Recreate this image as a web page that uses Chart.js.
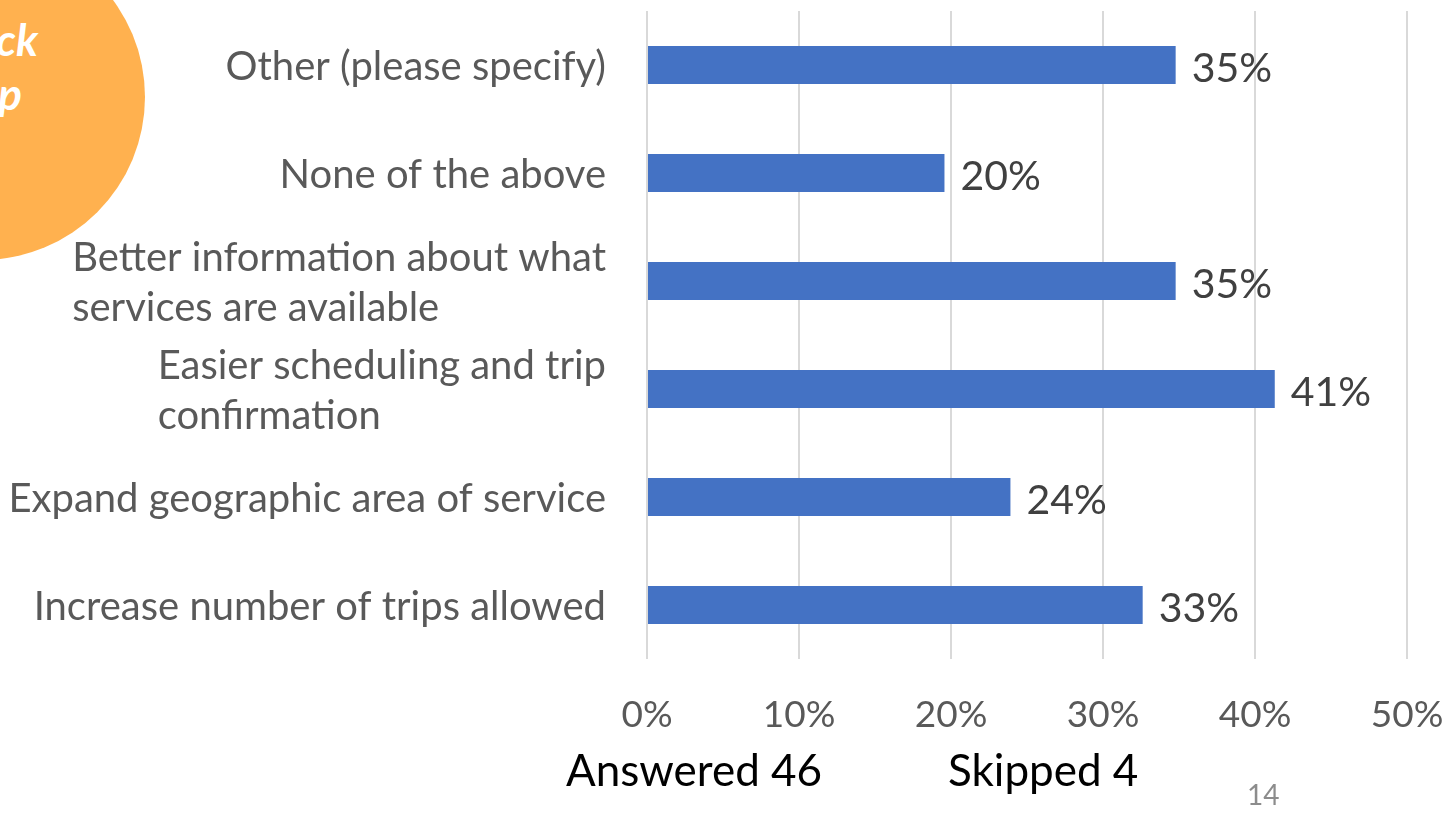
<!DOCTYPE html>
<html>
<head>
<meta charset="utf-8">
<script src="https://cdn.jsdelivr.net/npm/chart.js@4.4.1/dist/chart.umd.min.js"></script>
<style>
  html, body { margin: 0; padding: 0; background: #fff; overflow: hidden; }
  #wrap { position: relative; width: 1452px; height: 817px; font-family: Lato, "Open Sans", sans-serif; }
  #chart { position: absolute; left: 0; top: 0; }
  .blob { position: absolute; left: -181px; top: -66px; width: 326px; height: 326px; border-radius: 50%; background: #FFB14F; }
  .blob-txt { position: absolute; color: #fff; font-weight: 700; font-style: italic; font-size: 44px; text-align: right; line-height: 1; }
  .foot { position: absolute; color: #000; font-size: 44px; line-height: 1; white-space: nowrap; }
  .page { position: absolute; color: #8c8c8c; font-size: 28px; line-height: 1; }
</style>
</head>
<body>
<div id="wrap">
  <div class="blob"></div>
  <div class="blob-txt" style="left:-200px; width:238px; top:17px;">ck</div>
  <div class="blob-txt" style="left:-200px; width:222px; top:71px;">p</div>
  <canvas id="chart" width="1452" height="817"></canvas>
  <div class="foot" style="left:566px; top:747px;">Answered 46</div>
  <div class="foot" style="left:948px; top:747px;">Skipped 4</div>
  <div class="page" style="left:1247px; top:780px;">14</div>
</div>
<script>
// categories top to bottom, share of respondents (%)
const categories = [
  "Other (please specify)",
  "None of the above",
  ["Better information about what", "services are available"],
  ["Easier scheduling and trip", "confirmation"],
  "Expand geographic area of service",
  "Increase number of trips allowed"
];
const shares = [34.78, 19.57, 34.78, 41.30, 23.91, 32.61];
const xTickValues = [0, 10, 20, 30, 40, 50];
const xTickLabels = ["0%", "10%", "20%", "30%", "40%", "50%"];

const FONT = "Lato, 'Open Sans', sans-serif";

// category names: block right-aligned to the axis, lines left-aligned inside it
const categoryLabels = {
  id: "categoryLabels",
  afterDraw(chart) {
    const ctx = chart.ctx;
    const y = chart.scales.y;
    const right = chart.chartArea.left - 41;
    ctx.save();
    ctx.font = "40px " + FONT;
    ctx.fillStyle = "#595959";
    ctx.textAlign = "left";
    ctx.textBaseline = "alphabetic";
    categories.forEach((lab, i) => {
      const lines = Array.isArray(lab) ? lab : [lab];
      const w = Math.max(...lines.map(l => ctx.measureText(l).width));
      const yc = y.getPixelForValue(i);
      lines.forEach((l, k) => {
        ctx.fillText(l, right - w, yc + 15 + (k - (lines.length - 1) / 2) * 50);
      });
    });
    ctx.restore();
  }
};

// percent tick labels under the grid lines
const tickLabels = {
  id: "tickLabels",
  afterDraw(chart) {
    const ctx = chart.ctx;
    const x = chart.scales.x;
    ctx.save();
    ctx.font = "37px " + FONT;
    ctx.fillStyle = "#595959";
    ctx.textAlign = "center";
    ctx.textBaseline = "alphabetic";
    xTickValues.forEach((v, i) => {
      ctx.fillText(xTickLabels[i], x.getPixelForValue(v), 727);
    });
    ctx.restore();
  }
};

// percentage next to each bar end
const valueLabels = {
  id: "valueLabels",
  afterDatasetsDraw(chart) {
    const ctx = chart.ctx;
    const meta = chart.getDatasetMeta(0);
    ctx.save();
    ctx.font = "41px " + FONT;
    ctx.fillStyle = "#404040";
    ctx.textAlign = "left";
    ctx.textBaseline = "alphabetic";
    meta.data.forEach((bar, i) => {
      ctx.fillText(Math.round(shares[i]) + "%", bar.x + 16, bar.y + 17);
    });
    ctx.restore();
  }
};

new Chart(document.getElementById("chart").getContext("2d"), {
  type: "bar",
  data: {
    labels: categories,
    datasets: [{
      data: shares,
      backgroundColor: "#4472C4",
      borderWidth: 0,
      barPercentage: 0.352,
      categoryPercentage: 1
    }]
  },
  options: {
    indexAxis: "y",
    responsive: false,
    animation: false,
    layout: { padding: { top: 11, right: 45, left: 0, bottom: 0 } },
    plugins: { legend: { display: false }, tooltip: { enabled: false } },
    scales: {
      x: {
        min: 0,
        max: 50,
        afterBuildTicks(scale) { scale.ticks = xTickValues.map(v => ({ value: v })); },
        afterFit(scale) { scale.height = 817 - 659; },
        grid: { color: "#d9d9d9", lineWidth: 2, drawTicks: false },
        border: { display: false },
        ticks: { display: false }
      },
      y: {
        afterFit(scale) { scale.width = 647; },
        grid: { display: false },
        border: { display: false },
        ticks: { display: false }
      }
    }
  },
  plugins: [categoryLabels, tickLabels, valueLabels]
});
</script>
</body>
</html>
